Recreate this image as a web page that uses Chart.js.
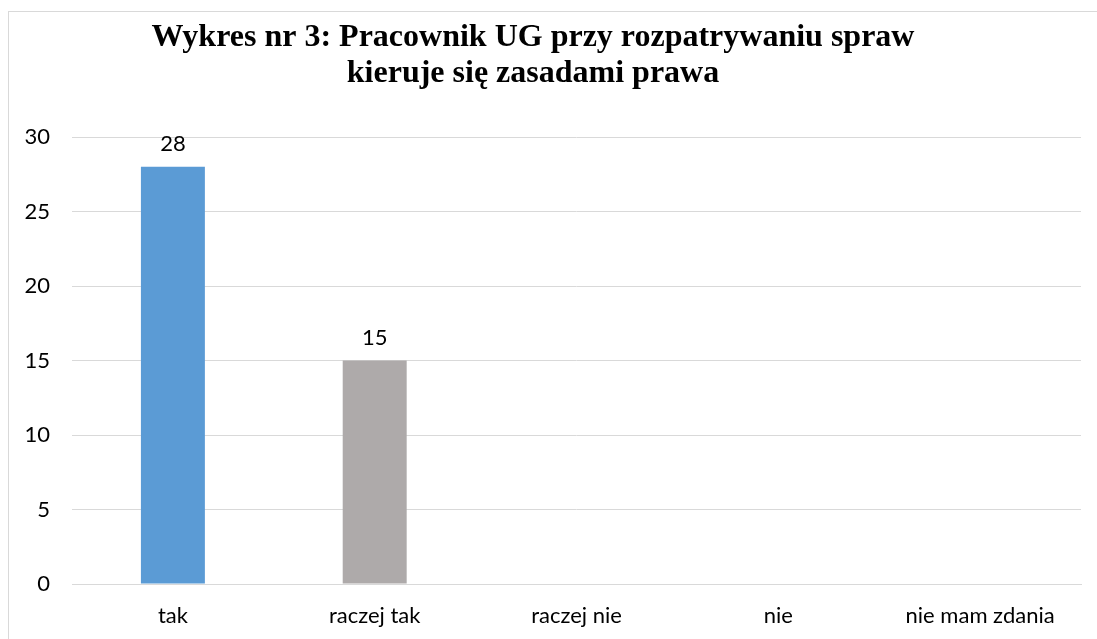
<!DOCTYPE html>
<html>
<head>
<meta charset="utf-8">
<script src="https://cdn.jsdelivr.net/npm/chart.js@4.4.0/dist/chart.umd.min.js"></script>
<style>
  html, body { margin: 0; padding: 0; background: #fff; overflow: hidden; }
  #wrap { position: absolute; left: 0; top: 0; width: 1097px; height: 639px; }
</style>
</head>
<body>
<div id="wrap"><canvas id="wykres"></canvas></div>
<script>
// dane z wykresu
var kategorie = ["tak", "raczej tak", "raczej nie", "nie", "nie mam zdania"];
var wartosci = [28, 15, null, null, null];
var kolory = ["#5B9BD5", "#AEAAAA", "#ED7D31", "#FFC000", "#4472C4"];
var tytul = ["Wykres nr 3: Pracownik UG przy rozpatrywaniu spraw", "kieruje się zasadami prawa"];
var osY = { min: 0, max: 30, krok: 5 };

var fontOs = "Lato";
var rozmiarOs = 22;

// ramka wykresu (jak w Excelu)
var ramka = {
    id: "ramka",
    beforeDraw: function (chart) {
        var ctx = chart.ctx;
        ctx.save();
        ctx.strokeStyle = "#D9D9D9";
        ctx.lineWidth = 1;
        ctx.strokeRect(8.5, 11.5, 2000, 2000);
        ctx.restore();
    }
};

// tytul rysowany recznie, bo w oryginale jest przesuniety w lewo
var tytulPlugin = {
    id: "tytulPlugin",
    afterDraw: function (chart) {
        var ctx = chart.ctx;
        ctx.save();
        ctx.font = "bold 32px 'Liberation Serif'";
        ctx.fillStyle = "#000";
        ctx.textAlign = "center";
        ctx.textBaseline = "alphabetic";
        ctx.fillText(tytul[0], 533, 46);
        ctx.fillText(tytul[1], 533, 82);
        ctx.restore();
    }
};

// etykiety wartosci nad slupkami
var etykiety = {
    id: "etykiety",
    afterDatasetsDraw: function (chart) {
        var ctx = chart.ctx;
        var meta = chart.getDatasetMeta(0);
        ctx.save();
        ctx.font = rozmiarOs + "px " + fontOs;
        ctx.fillStyle = "#000";
        ctx.textAlign = "center";
        ctx.textBaseline = "middle";
        meta.data.forEach(function (bar, i) {
            var v = wartosci[i];
            if (v === null || v === undefined) return;
            ctx.fillText(String(v), bar.x, bar.y - 23);
        });
        ctx.restore();
    }
};

var ctx = document.getElementById("wykres").getContext("2d");
var wykres = new Chart(ctx, {
    type: "bar",
    data: {
        labels: kategorie,
        datasets: [{
            data: wartosci,
            backgroundColor: kolory,
            borderWidth: 0,
            barPercentage: 1,
            categoryPercentage: 0.317
        }]
    },
    options: {
        responsive: true,
        maintainAspectRatio: false,
        animation: false,
        layout: { padding: { top: 137, right: 16, bottom: 0, left: 0 } },
        plugins: {
            legend: { display: false },
            title: { display: false },
            tooltip: { enabled: false }
        },
        scales: {
            x: {
                grid: { display: false, drawTicks: false },
                border: { color: "#D9D9D9", width: 1 },
                ticks: { color: "#000", padding: 19, font: { family: fontOs, size: rozmiarOs } },
                afterFit: function (scale) { scale.height = 55; }
            },
            y: {
                min: osY.min,
                max: osY.max,
                grid: { color: "#D9D9D9", lineWidth: 1, drawTicks: false },
                border: { display: false },
                ticks: {
                    stepSize: osY.krok,
                    color: "#000",
                    padding: 22,
                    font: { family: fontOs, size: rozmiarOs }
                },
                afterFit: function (scale) { scale.width = 72; }
            }
        }
    },
    plugins: [ramka, tytulPlugin, etykiety]
});
</script>
</body>
</html>
